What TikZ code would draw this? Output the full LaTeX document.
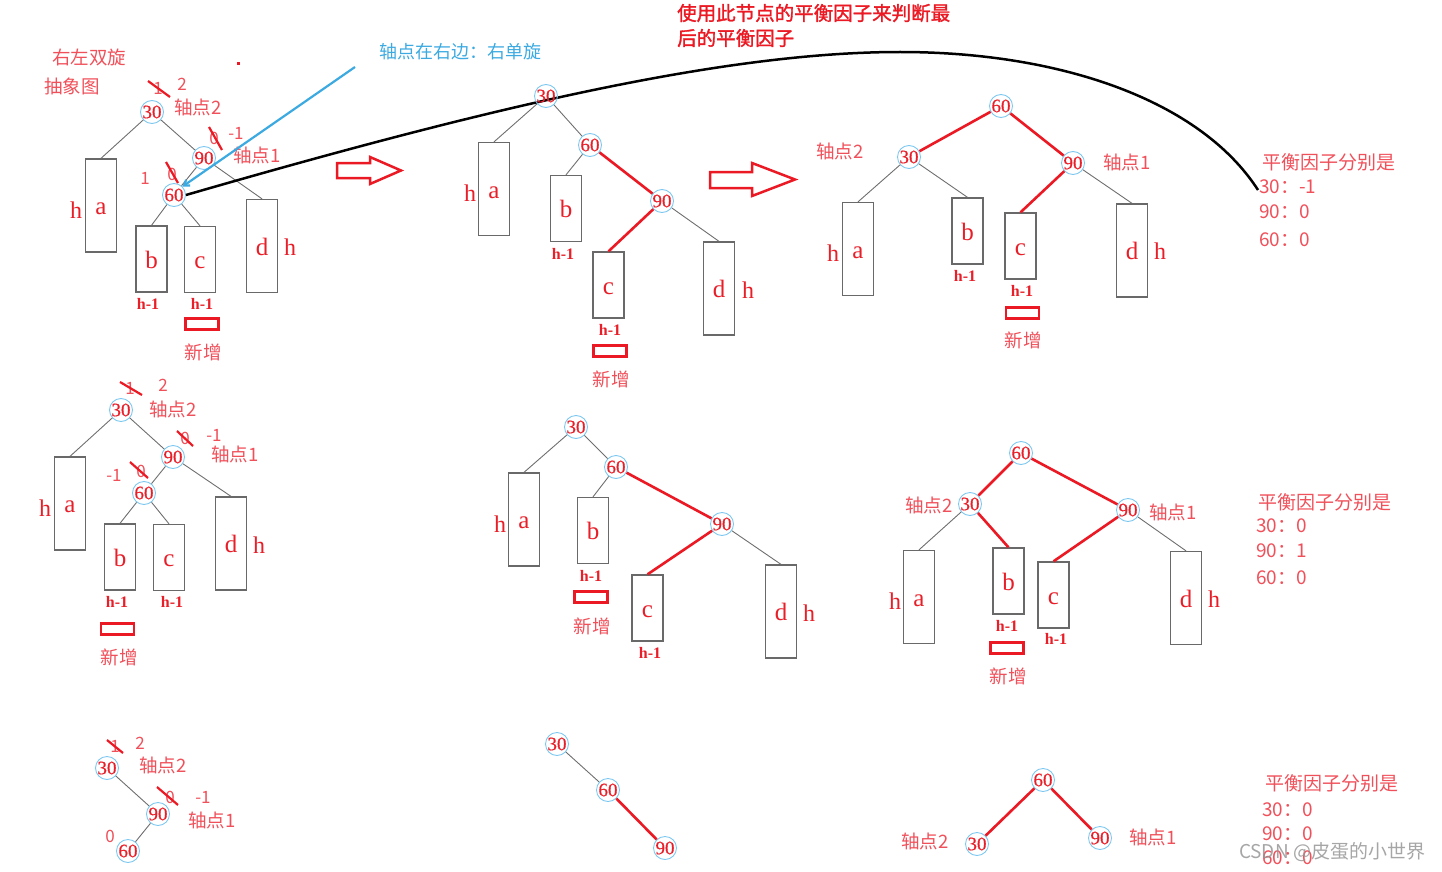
\documentclass[tikz,border=0pt]{standalone}
\usepackage{fontspec}
\setmainfont{Liberation Serif}
\newfontfamily\cjk{Noto Sans CJK SC}
\newfontfamily\cjkb{Noto Sans CJK SC}[FakeBold=1.6]
\newfontfamily\numf{Liberation Serif}[FakeBold=0.6]
\usetikzlibrary{arrows.meta}
\definecolor{lblred}{RGB}{240,80,90}
\definecolor{nred}{RGB}{232,30,40}
\definecolor{cblue}{RGB}{125,200,240}
\definecolor{bgray}{RGB}{105,105,105}
\definecolor{ggray}{RGB}{110,110,110}
\definecolor{tblue}{RGB}{60,170,225}
\definecolor{ered}{RGB}{235,25,35}
\definecolor{wmgray}{RGB}{150,150,150}
\tikzset{
 nd/.style={circle, draw=cblue, line width=0.9pt, minimum size=23pt, inner sep=0pt, text=nred, font=\numf\fontsize{19}{19}\selectfont},
 bxs/.style={rectangle, draw=bgray, line width=1.3pt, minimum width=31pt, minimum height=66pt, inner sep=0pt, text=nred, text height=18pt, text depth=0pt, font=\fontsize{25}{25}\selectfont},
 bxl/.style={bxs, minimum height=93pt},
 ge/.style={draw=ggray, line width=0.9pt},
 re/.style={draw=ered, line width=2.6pt},
 lb/.style={text=lblred, font=\cjk\fontsize{18.5}{18.5}\selectfont, inner sep=0pt},
 hl/.style={text=nred, font=\fontsize{24}{24}\selectfont, inner sep=0pt},
 hm/.style={text=nred, font=\bfseries\fontsize{16}{16}\selectfont, inner sep=0pt},
 nb/.style={text=lblred, font=\cjk\fontsize{17}{17}\selectfont, inner sep=0pt},
 strike/.style={draw=ered, line width=2.2pt},
 newbox/.style={draw=ered, line width=2.2pt, minimum width=33pt, minimum height=11pt, inner sep=0pt},
 harrow/.style={draw=ered, line width=2.5pt, line join=miter},
 bf/.style={text=lblred, font=\cjk\fontsize{19}{19}\selectfont, inner sep=0pt, anchor=west},
}
\begin{document}
\begin{tikzpicture}[x=1pt,y=-1pt]
\useasboundingbox (0,0) rectangle (1442,872);

% ---------- Panel 1 ----------
\node[lb] (t1) at (89,57) {右左双旋};
\node[lb] (t2) at (72,86) {抽象图};
\fill[ered] (237,62) rectangle (240,65);
\node[nd] (a30) at (152,112) {30};
\node[nd] (a90) at (204,158) {90};
\node[nd] (a60) at (174,195) {60};
\node[bxl] (a1) at (101,205.5) {a};
\node[bxs] (a2) at (151.5,259) {b};
\node[bxs] (a3) at (200,259.5) {c};
\node[bxl] (a4) at (262,246) {d};
\draw[ge] (a30) -- (a1.north);
\draw[ge] (a30) -- (a90);
\draw[ge] (a90) -- (a60);
\draw[ge] (a90) -- (a4.north);
\draw[ge] (a60) -- (a2.north);
\draw[ge] (a60) -- (a3.north);
\node[nb] (a30o) at (158,88) {1};
\draw[strike] (148,81) -- (170,97);
\node[nb] (a30n) at (182,84) {2};
\node[lb] (a30p) at (198,107) {轴点2};
\node[nb] (a90o) at (214,138) {0};
\draw[strike] (209,127) -- (222,150);
\node[nb] (a90n) at (236,133) {-1};
\node[lb] (a90p) at (257,155) {轴点1};
\node[nb] (a60n) at (145,178) {1};
\node[nb] (a60o) at (172,174) {0};
\draw[strike] (166,162) -- (178,183);
\node[hl] (ah1) at (76,210) {h};
\node[hl] (ah2) at (290,247) {h};
\node[hm] (ahb) at (148,304) {h-1};
\node[hm] (ahc) at (202,304) {h-1};
\node[newbox] (anb) at (202,324) {};
\node[lb] (ant) at (203,352) {新增};

% blue arrow and text
\node[text=tblue, font=\cjk\fontsize{18}{18}\selectfont, inner sep=0pt] (btxt) at (460,52) {轴点在右边：右单旋};
\coordinate (bstart) at (355,67);
\draw[draw=tblue, line width=2.2pt, -{Straight Barb[length=5pt,width=7pt]}] (bstart) -- (a60.north east);

% black curve
\coordinate (cend) at (1258,190);
\draw[black, line width=2.5pt] (a60.east) .. controls (480,110) and (720,52) .. (900,52) .. controls (1060,52) and (1200,100) .. (cend);

% title
\node[text=ered, font=\cjkb\fontsize{19.5}{19.5}\selectfont, inner sep=0pt, anchor=west] (tt1) at (677,13) {使用此节点的平衡因子来判断最};
\node[text=ered, font=\cjkb\fontsize{19.5}{19.5}\selectfont, inner sep=0pt, anchor=west] (tt2) at (677,38) {后的平衡因子};

% hollow arrows
\draw[harrow] (337,163) -- (370,163) -- (370,157) -- (401,170.5) -- (370,184) -- (370,178) -- (337,178) -- cycle;
\draw[harrow] (710,172) -- (752,172) -- (752,163) -- (795,179.5) -- (752,196) -- (752,188) -- (710,188) -- cycle;

% ---------- Panel 2 ----------
\node[nd] (b30) at (546,96) {30};
\node[nd] (b60) at (590,145) {60};
\node[nd] (b90) at (662,201) {90};
\node[bxl] (b1) at (494,189) {a};
\node[bxs] (b2) at (566,208.5) {b};
\node[bxs] (b3) at (608.5,285) {c};
\node[bxl] (b4) at (719,288.5) {d};
\draw[ge] (b30) -- (b1.north);
\draw[ge] (b30) -- (b60);
\draw[ge] (b60) -- (b2.north);
\draw[re] (b60) -- (b90);
\draw[re] (b90) -- (b3.north);
\draw[ge] (b90) -- (b4.north);
\node[hl] (bh1) at (470,193) {h};
\node[hl] (bh2) at (748,290) {h};
\node[hm] (bhb) at (563,254) {h-1};
\node[hm] (bhc) at (610,330) {h-1};
\node[newbox] (bnb) at (610,351) {};
\node[lb] (bnt) at (611,379) {新增};

% ---------- Panel 3 ----------
\node[nd] (c60) at (1001,106) {60};
\node[nd] (c30) at (909,157) {30};
\node[nd] (c90) at (1073,163) {90};
\node[bxl] (c1) at (858,249) {a};
\node[bxs] (c2) at (967.5,231) {b};
\node[bxs] (c3) at (1020.5,246) {c};
\node[bxl] (c4) at (1132,250.5) {d};
\draw[re] (c60) -- (c30);
\draw[re] (c60) -- (c90);
\draw[ge] (c30) -- (c1.north);
\draw[ge] (c30) -- (c2.north);
\draw[re] (c90) -- (c3.north);
\draw[ge] (c90) -- (c4.north);
\node[lb] (cp2) at (840,151) {轴点2};
\node[lb] (cp1) at (1127,162) {轴点1};
\node[hl] (ch1) at (833,253) {h};
\node[hl] (ch2) at (1160,251) {h};
\node[hm] (chb) at (965,276) {h-1};
\node[hm] (chc) at (1022,291) {h-1};
\node[newbox] (cnb) at (1022.5,313) {};
\node[lb] (cnt) at (1023,340) {新增};
\node[bf] (cf0) at (1262,162) {平衡因子分别是};
\node[bf] (cf1) at (1259,187) {30：-1};
\node[bf] (cf2) at (1259,212) {90：0};
\node[bf] (cf3) at (1259,240) {60：0};

% ---------- Panel 4 ----------
\node[nd] (d30) at (121,410) {30};
\node[nd] (d90) at (173,457) {90};
\node[nd] (d60) at (144,493) {60};
\node[bxl] (d1) at (70,503.5) {a};
\node[bxs] (d2) at (120,557) {b};
\node[bxs] (d3) at (169,557.5) {c};
\node[bxl] (d4) at (231,543.5) {d};
\draw[ge] (d30) -- (d1.north);
\draw[ge] (d30) -- (d90);
\draw[ge] (d90) -- (d60);
\draw[ge] (d90) -- (d4.north);
\draw[ge] (d60) -- (d2.north);
\draw[ge] (d60) -- (d3.north);
\node[nb] (d30o) at (130,388) {1};
\draw[strike] (120,382) -- (142,395);
\node[nb] (d30n) at (163,385) {2};
\node[lb] (d30p) at (173,409) {轴点2};
\node[nb] (d90o) at (185,438) {0};
\draw[strike] (177,431) -- (193,446);
\node[nb] (d90n) at (214,435) {-1};
\node[lb] (d90p) at (235,454) {轴点1};
\node[nb] (d60n) at (114,475) {-1};
\node[nb] (d60o) at (141,471) {0};
\draw[strike] (130,462) -- (148,478);
\node[hl] (dh1) at (45,508) {h};
\node[hl] (dh2) at (259,545) {h};
\node[hm] (dhb) at (117,602) {h-1};
\node[hm] (dhc) at (172,602) {h-1};
\node[newbox] (dnb) at (117.5,629) {};
\node[lb] (dnt) at (119,657) {新增};

% ---------- Panel 5 ----------
\node[nd] (e30) at (576,427) {30};
\node[nd] (e60) at (616,467) {60};
\node[nd] (e90) at (722,524) {90};
\node[bxl] (e1) at (524,519.5) {a};
\node[bxs] (e2) at (593,530.5) {b};
\node[bxs] (e3) at (647.5,608) {c};
\node[bxl] (e4) at (781,611.5) {d};
\draw[ge] (e30) -- (e1.north);
\draw[ge] (e30) -- (e60);
\draw[ge] (e60) -- (e2.north);
\draw[re] (e60) -- (e90);
\draw[re] (e90) -- (e3.north);
\draw[ge] (e90) -- (e4.north);
\node[hl] (eh1) at (500,524) {h};
\node[hl] (eh2) at (809,613) {h};
\node[hm] (ehb) at (591,576) {h-1};
\node[hm] (ehc) at (650,653) {h-1};
\node[newbox] (enb) at (591,597) {};
\node[lb] (ent) at (592,626) {新增};

% ---------- Panel 6 ----------
\node[nd] (f60) at (1021,453) {60};
\node[nd] (f30) at (970,504) {30};
\node[nd] (f90) at (1128,510) {90};
\node[bxl] (f1) at (919,597) {a};
\node[bxs] (f2) at (1008.5,581) {b};
\node[bxs] (f3) at (1053.5,595) {c};
\node[bxl] (f4) at (1186,598) {d};
\draw[re] (f60) -- (f30);
\draw[re] (f60) -- (f90);
\draw[ge] (f30) -- (f1.north);
\draw[re] (f30) -- (f2.north);
\draw[re] (f90) -- (f3.north);
\draw[ge] (f90) -- (f4.north);
\node[lb] (fp2) at (929,505) {轴点2};
\node[lb] (fp1) at (1173,512) {轴点1};
\node[hl] (fh1) at (895,601) {h};
\node[hl] (fh2) at (1214,599) {h};
\node[hm] (fhb) at (1007,626) {h-1};
\node[hm] (fhc) at (1056,639) {h-1};
\node[newbox] (fnb) at (1007,648) {};
\node[lb] (fnt) at (1008,676) {新增};
\node[bf] (ff0) at (1258,502) {平衡因子分别是};
\node[bf] (ff1) at (1256,526) {30：0};
\node[bf] (ff2) at (1256,551) {90：1};
\node[bf] (ff3) at (1256,578) {60：0};

% ---------- Panel 7 ----------
\node[nd] (g30) at (107,768) {30};
\node[nd] (g90) at (158,814) {90};
\node[nd] (g60) at (128,851) {60};
\draw[ge] (g30) -- (g90);
\draw[ge] (g90) -- (g60);
\node[nb] (g30o) at (115,746) {1};
\draw[strike] (107,740) -- (123,753);
\node[nb] (g30n) at (140,743) {2};
\node[lb] (g30p) at (163,765) {轴点2};
\node[nb] (g90o) at (170,797) {0};
\draw[strike] (157,787) -- (178,805);
\node[nb] (g90n) at (203,797) {-1};
\node[lb] (g90p) at (212,820) {轴点1};
\node[nb] (g60n) at (110,836) {0};

% ---------- Panel 8 ----------
\node[nd] (h30) at (557,744) {30};
\node[nd] (h60) at (608,790) {60};
\node[nd] (h90) at (665,848) {90};
\draw[ge] (h30) -- (h60);
\draw[re] (h60) -- (h90);

% ---------- Panel 9 ----------
\node[nd] (i60) at (1043,780) {60};
\node[nd] (i30) at (977,844) {30};
\node[nd] (i90) at (1100,838) {90};
\draw[re] (i60) -- (i30);
\draw[re] (i60) -- (i90);
\node[lb] (ip2) at (925,841) {轴点2};
\node[lb] (ip1) at (1153,837) {轴点1};
\node[bf] (if0) at (1265,783) {平衡因子分别是};
\node[bf] (if1) at (1262,810) {30：0};
\node[bf] (if2) at (1262,834) {90：0};
\node[bf] (if3) at (1262,858) {60：0};

% watermark
\node[text=wmgray, opacity=0.85, font=\cjk\fontsize{19}{19}\selectfont, inner sep=0pt] (wm) at (1332,852) {CSDN @皮蛋的小世界};
\end{tikzpicture}
\end{document}
